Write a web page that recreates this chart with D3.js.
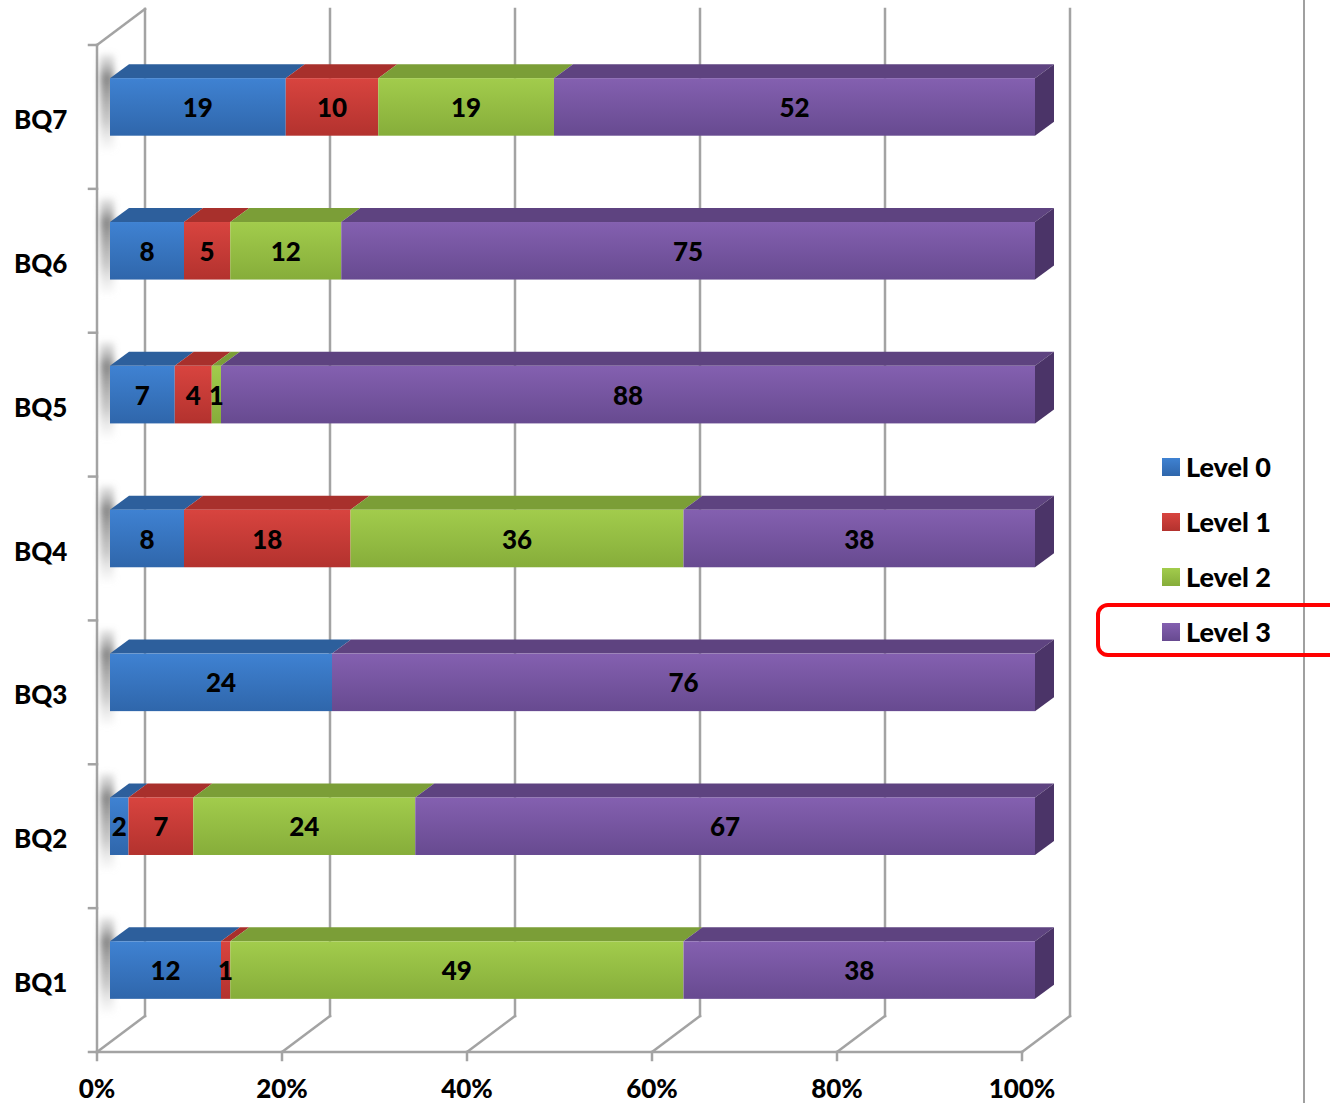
<!DOCTYPE html>
<html>
<head>
<meta charset="utf-8">
<script src="https://cdn.jsdelivr.net/npm/d3@7/dist/d3.min.js"></script>
<style>
  html, body { margin: 0; padding: 0; background: #fff; }
  svg { display: block; }
  text { font-family: Lato, "Open Sans", "Liberation Sans", sans-serif; font-weight: 900; }
</style>
</head>
<body>
<svg id="chart" width="1330" height="1103"></svg>
<script>
// Questions, listed top to bottom
const categories = ["BQ7", "BQ6", "BQ5", "BQ4", "BQ3", "BQ2", "BQ1"];
const seriesNames = ["Level 0", "Level 1", "Level 2", "Level 3"];
// Percentage per level, in the same order as categories
const level0 = [19, 8, 7, 8, 24, 2, 12];
const level1 = [10, 5, 4, 18, 0, 7, 1];
const level2 = [19, 12, 1, 36, 0, 24, 49];
const level3 = [52, 75, 88, 38, 76, 67, 38];
const tickValues = [0, 20, 40, 60, 80, 100];
const tickLabels = ["0%", "20%", "40%", "60%", "80%", "100%"];

const palette = [
  { front: ["#3f82d2", "#2f66ab"], top: "#2d5f9c", side: "#244f85" },
  { front: ["#d8443f", "#b3322e"], top: "#a8302c", side: "#8c2724" },
  { front: ["#a2cc4c", "#86ad3a"], top: "#7b9e37", side: "#67862d" },
  { front: ["#8460b0", "#674a90"], top: "#5e4380", side: "#4b3468" }
];

const svg = d3.select("#chart");
const defs = svg.append("defs");

palette.forEach((p, i) => {
  const g = defs.append("linearGradient").attr("id", "grad" + i)
    .attr("x1", 0).attr("y1", 0).attr("x2", 0).attr("y2", 1);
  g.append("stop").attr("offset", "0%").attr("stop-color", p.front[0]);
  g.append("stop").attr("offset", "100%").attr("stop-color", p.front[1]);
});
// Shadow cast by each bar onto the side wall
const shade = defs.append("linearGradient").attr("id", "shade")
  .attr("x1", 0).attr("y1", 0).attr("x2", 0).attr("y2", 1);
shade.append("stop").attr("offset", "0%").attr("stop-color", "#9a9a9a").attr("stop-opacity", 0.2);
shade.append("stop").attr("offset", "25%").attr("stop-color", "#7a7a7a").attr("stop-opacity", 0.9);
shade.append("stop").attr("offset", "70%").attr("stop-color", "#a8a8a8").attr("stop-opacity", 0.6);
shade.append("stop").attr("offset", "100%").attr("stop-color", "#cfcfcf").attr("stop-opacity", 0.1);
defs.append("filter").attr("id", "soft").attr("x", "-100%").attr("y", "-50%")
  .attr("width", "300%").attr("height", "200%")
  .append("feGaussianBlur").attr("stdDeviation", 3);

// Front plane geometry
const plotTop = 45, plotBottom = 1052;
const x = d3.scaleLinear().domain([0, 100]).range([97, 1022]);
const y = d3.scaleBand().domain(categories).range([plotTop, plotBottom])
  .paddingInner(0.6).paddingOuter(0.3);
const step = y.step();

// Offsets for depth: back wall, bar front, bar thickness
const wall = { dx: 48, dy: -36 };
const barFront = { dx: 13, dy: -10 };
const barDepth = { dx: 19, dy: -14 };

const gridColor = "#a3a3a3";
const grid = svg.append("g").attr("stroke", gridColor).attr("stroke-width", 2.5)
  .attr("fill", "none").attr("stroke-linecap", "square");

// Back wall vertical gridlines and floor diagonals
tickValues.forEach(v => {
  const fx = x(v);
  grid.append("line").attr("x1", fx + wall.dx).attr("x2", fx + wall.dx)
    .attr("y1", plotTop + wall.dy).attr("y2", plotBottom + wall.dy);
  grid.append("line").attr("x1", fx).attr("y1", plotBottom)
    .attr("x2", fx + wall.dx).attr("y2", plotBottom + wall.dy);
  grid.append("line").attr("x1", fx).attr("x2", fx)
    .attr("y1", plotBottom).attr("y2", plotBottom + 8);
});
// Front axes and side wall edge
grid.append("line").attr("x1", x(0)).attr("x2", x(100)).attr("y1", plotBottom).attr("y2", plotBottom);
grid.append("line").attr("x1", x(0)).attr("x2", x(0)).attr("y1", plotTop).attr("y2", plotBottom);
grid.append("line").attr("x1", x(0)).attr("y1", plotTop)
  .attr("x2", x(0) + wall.dx).attr("y2", plotTop + wall.dy);
// Category tick marks
d3.range(categories.length + 1).forEach(i => {
  const ty = plotTop + i * step;
  grid.append("line").attr("x1", x(0) - 8).attr("x2", x(0)).attr("y1", ty).attr("y2", ty);
});

// Stacked segments
const rows = categories.map((c, i) => ({
  cat: c, vals: [level0[i], level1[i], level2[i], level3[i]]
}));
const shadows = svg.append("g");
const bars = svg.append("g");
const labels = svg.append("g");
const bw = y.bandwidth();

rows.forEach(row => {
  const y0 = y(row.cat) + barFront.dy;
  const x0 = x(0) + barFront.dx;
  shadows.append("rect")
    .attr("x", x0 - 10).attr("y", y0 + barDepth.dy - 10)
    .attr("width", 14).attr("height", bw - barDepth.dy + 24)
    .attr("fill", "url(#shade)").attr("filter", "url(#soft)");

  let cum = 0;
  const segs = row.vals.map((v, k) => {
    const s = { k, v, a: cum, b: cum + v };
    cum += v;
    return s;
  }).filter(s => s.v > 0);

  segs.forEach((s, idx) => {
    const xa = x(s.a) + barFront.dx;
    const xb = x(s.b) + barFront.dx;
    const p = palette[s.k];
    // top face
    bars.append("path")
      .attr("d", `M${xa},${y0} L${xa + barDepth.dx},${y0 + barDepth.dy} L${xb + barDepth.dx},${y0 + barDepth.dy} L${xb},${y0} Z`)
      .attr("fill", p.top);
    // front face
    bars.append("rect").attr("x", xa).attr("y", y0)
      .attr("width", Math.max(0, xb - xa)).attr("height", bw)
      .attr("fill", `url(#grad${s.k})`);
    // right end face on the last segment
    if (idx === segs.length - 1) {
      bars.append("path")
        .attr("d", `M${xb},${y0} L${xb + barDepth.dx},${y0 + barDepth.dy} L${xb + barDepth.dx},${y0 + bw + barDepth.dy} L${xb},${y0 + bw} Z`)
        .attr("fill", p.side);
    }
    labels.append("text")
      .attr("x", (xa + xb) / 2).attr("y", y0 + bw / 2)
      .attr("text-anchor", "middle").attr("dominant-baseline", "central")
      .attr("font-size", 26).attr("fill", "#000").text(s.v);
  });
});

// Category labels
svg.append("g").selectAll("text").data(categories).join("text")
  .attr("x", 14).attr("y", d => y(d) + bw / 2 + 2)
  .attr("dominant-baseline", "central").attr("font-size", 26).attr("fill", "#000")
  .text(d => d);

// Percent labels
svg.append("g").selectAll("text").data(tickValues).join("text")
  .attr("x", d => x(d)).attr("y", 1088)
  .attr("text-anchor", "middle").attr("dominant-baseline", "central")
  .attr("font-size", 26).attr("fill", "#000")
  .text((d, i) => tickLabels[i]);

// Chart area border on the right
svg.append("line").attr("x1", 1304).attr("x2", 1304).attr("y1", 0).attr("y2", 1103)
  .attr("stroke", "#a0a0a0").attr("stroke-width", 2);

// Legend
const legend = svg.append("g");
seriesNames.forEach((name, i) => {
  const ly = 467 + i * 55;
  legend.append("rect").attr("x", 1162).attr("y", ly - 9).attr("width", 18).attr("height", 18)
    .attr("fill", `url(#grad${i})`);
  legend.append("text").attr("x", 1186).attr("y", ly - 1)
    .attr("dominant-baseline", "central").attr("font-size", 27).attr("fill", "#000").text(name);
});
// Highlight around the last legend entry
legend.append("rect").attr("x", 1098).attr("y", 605).attr("width", 260).attr("height", 50)
  .attr("rx", 10).attr("fill", "none").attr("stroke", "#ff0000").attr("stroke-width", 4);
</script>
</body>
</html>
